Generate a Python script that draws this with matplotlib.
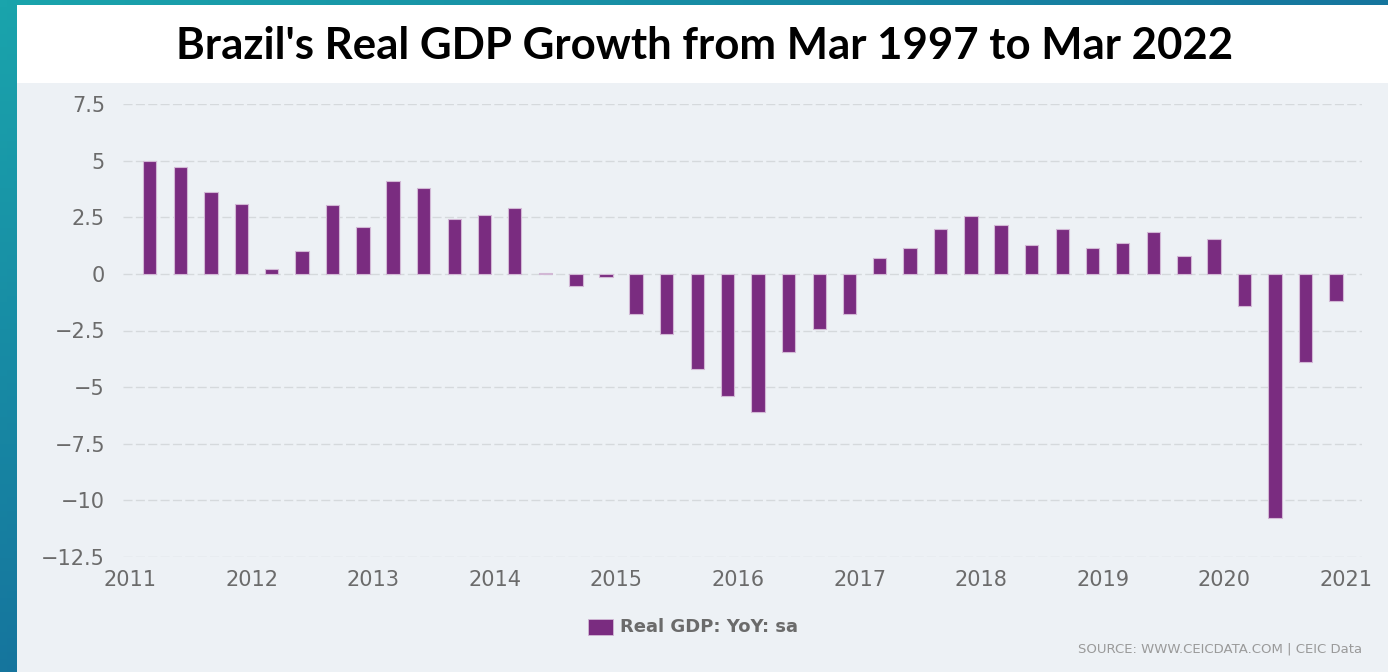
import numpy as np
import matplotlib
matplotlib.use("Agg")
import matplotlib.pyplot as plt
from matplotlib.patches import Rectangle
from matplotlib.colors import to_rgb
from datetime import datetime

# Quarterly real GDP growth, year-on-year, seasonally adjusted (%)
quarters = [
    "2011-03", "2011-06", "2011-09", "2011-12",
    "2012-03", "2012-06", "2012-09", "2012-12",
    "2013-03", "2013-06", "2013-09", "2013-12",
    "2014-03", "2014-06", "2014-09", "2014-12",
    "2015-03", "2015-06", "2015-09", "2015-12",
    "2016-03", "2016-06", "2016-09", "2016-12",
    "2017-03", "2017-06", "2017-09", "2017-12",
    "2018-03", "2018-06", "2018-09", "2018-12",
    "2019-03", "2019-06", "2019-09", "2019-12",
    "2020-03", "2020-06", "2020-09", "2020-12",
]
gdp_yoy = [
    4.98, 4.73, 3.60, 3.08,
    0.23, 1.03, 3.02, 2.08,
    4.08, 3.77, 2.43, 2.58,
    2.92, 0.05, -0.53, -0.13,
    -1.79, -2.64, -4.19, -5.40,
    -6.08, -3.44, -2.43, -1.79,
    0.71, 1.15, 1.96, 2.57,
    2.17, 1.27, 1.96, 1.15,
    1.36, 1.86, 0.81, 1.56,
    -1.40, -10.80, -3.89, -1.18,
]
y_ticks = [-12.5, -10, -7.5, -5, -2.5, 0, 2.5, 5, 7.5]
y_tick_labels = ["\u221212.5", "\u221210", "\u22127.5", "\u22125", "\u22122.5", "0", "2.5", "5", "7.5"]
x_tick_years = list(range(2011, 2022))

title = "Brazil's Real GDP Growth from Mar 1997 to Mar 2022"
series_name = "Real GDP: YoY: sa"
source = "SOURCE: WWW.CEICDATA.COM | CEIC Data"

W, H = 1388, 672
fig = plt.figure(figsize=(W / 100, H / 100), dpi=100)

def fx(px):
    return px / W

def fy(py):
    return 1 - py / H

# Slide backdrop: teal-to-blue gradient
bg = fig.add_axes([0, 0, 1, 1], zorder=-10)
bg.set_axis_off()
gx, gy = np.meshgrid(np.linspace(0, 1, 200), np.linspace(0, 1, 100))
t = np.clip(gx * 0.9 + gy * 0.9, 0, 1)[..., None]
c0 = np.array(to_rgb("#1aa4ac"))
c1 = np.array(to_rgb("#15709c"))
grad = c0 * (1 - t) + c1 * t
bg.imshow(grad, extent=[0, 1, 0, 1], aspect="auto", origin="upper")
bg.set_xlim(0, 1)
bg.set_ylim(0, 1)

# White title band and light chart panel
bg.add_patch(Rectangle((fx(17), fy(83)), 1 - fx(17), fy(5) - fy(83),
                       facecolor="white", edgecolor="none"))
bg.add_patch(Rectangle((fx(17), 0), 1 - fx(17), fy(83),
                       facecolor="#edf1f5", edgecolor="none"))

fig.text(fx(705), fy(46), title, ha="center", va="center",
         fontsize=31.5, fontweight="bold", family="Lato", color="black")

# Plot area
ax = fig.add_axes([fx(123), fy(557), fx(1362) - fx(123), fy(104) - fy(557)])
ax.set_facecolor("none")

dates = [datetime.strptime(q, "%Y-%m") for q in quarters]
bar_color = "#7a2c80"
ax.bar(dates, gdp_yoy, width=40, color=bar_color,
       edgecolor="#d2b8d5", linewidth=0.8, zorder=3)

ax.set_ylim(-12.5, 7.5)
ax.set_yticks(y_ticks)
ax.set_yticklabels(y_tick_labels)
ax.set_xlim(datetime(2010, 12, 11), datetime(2021, 2, 17))
ax.set_xticks([datetime(y, 1, 1) for y in x_tick_years])
ax.set_xticklabels([str(y) for y in x_tick_years])

ax.grid(axis="y", color="#d5d9dc", linewidth=1.0, linestyle=(0, (6.5, 2.4)), zorder=1)
ax.grid(axis="x", visible=False)
for s in ax.spines.values():
    s.set_visible(False)
ax.tick_params(axis="both", length=0, labelsize=15, labelcolor="#6b6b6b")
ax.tick_params(axis="y", pad=13)
ax.tick_params(axis="x", pad=9)
for lab in ax.get_xticklabels() + ax.get_yticklabels():
    lab.set_family("DejaVu Sans")

# Series key
bg.add_patch(Rectangle((fx(588), fy(635)), fx(613) - fx(588), fy(619) - fy(635),
                       facecolor=bar_color, edgecolor="#d2b8d5", linewidth=0.6))
fig.text(fx(620), fy(627), series_name, ha="left", va="center",
         fontsize=13, fontweight="bold", color="#6b6b6b", family="DejaVu Sans")

fig.text(fx(1362), fy(649), source, ha="right", va="center",
         fontsize=9.5, color="#9a9a9a", family="DejaVu Sans")

fig.savefig("out.png", dpi=100)
